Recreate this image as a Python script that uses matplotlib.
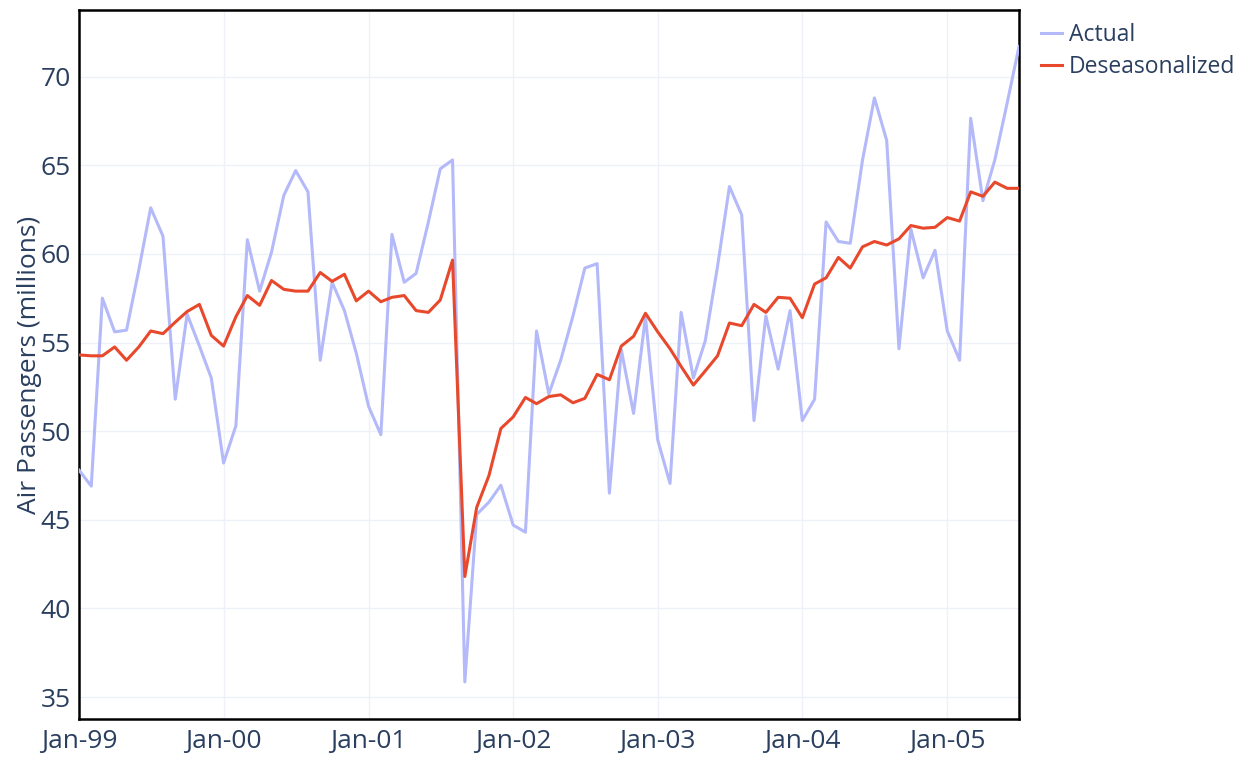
import matplotlib.pyplot as plt
import matplotlib.dates as mdates
import numpy as np
import pandas as pd

plt.rcParams['font.family'] = ['Open Sans', 'DejaVu Sans']

# monthly, Jan-1999 .. Jul-2005
months = pd.date_range('1999-01-01', periods=79, freq='MS')

actual = [47.8, 46.9, 57.5, 55.6, 55.7, 59.1, 62.6, 61.0, 51.8, 56.6, 54.8, 53.0,
          48.2, 50.3, 60.8, 57.9, 60.1, 63.3, 64.7, 63.5, 54.0, 58.4, 56.8, 54.4,
          51.4, 49.8, 61.1, 58.4, 58.9, 61.8, 64.8, 65.3, 35.85, 45.3, 46.0, 46.95,
          44.7, 44.3, 55.65, 52.1, 54.0, 56.5, 59.2, 59.45, 46.5, 54.6, 51.0, 56.45,
          49.5, 47.05, 56.7, 53.0, 55.1, 59.3, 63.8, 62.2, 50.6, 56.5, 53.5, 56.8,
          50.6, 51.8, 61.8, 60.7, 60.6, 65.3, 68.8, 66.4, 54.65, 61.4, 58.65, 60.2,
          55.65, 54.0, 67.65, 63.0, 65.3, 68.5, 71.7]

deseasonalized = [54.3, 54.25, 54.25, 54.75, 54.0, 54.75, 55.65, 55.5, 56.15, 56.75, 57.15, 55.4,
                  54.8, 56.45, 57.65, 57.1, 58.5, 58.0, 57.9, 57.9, 58.95, 58.45, 58.85, 57.35,
                  57.9, 57.3, 57.55, 57.65, 56.8, 56.7, 57.4, 59.65, 41.8, 45.7, 47.5, 50.15,
                  50.8, 51.9, 51.55, 51.95, 52.05, 51.6, 51.85, 53.2, 52.9, 54.8, 55.35, 56.65,
                  55.6, 54.65, 53.65, 52.6, 53.4, 54.25, 56.1, 55.95, 57.15, 56.7, 57.55, 57.5,
                  56.4, 58.3, 58.65, 59.8, 59.2, 60.4, 60.7, 60.5, 60.85, 61.6, 61.45, 61.5,
                  62.05, 61.85, 63.5, 63.25, 64.05, 63.7, 63.7]

yticks = [35, 40, 45, 50, 55, 60, 65, 70]

txt = '#2a3f5f'

fig = plt.figure(figsize=(12.54, 7.61), dpi=100)
ax = fig.add_axes([79/1254, 1 - 719/761, 940/1254, 709/761])

ax.plot(months, actual, color='#b3b9f9', lw=2.2, label='Actual', zorder=3)
ax.plot(months, deseasonalized, color='#e8492c', lw=2.2, label='Deseasonalized', zorder=4)

ax.set_xlim(months[0], months[-1])
ax.set_ylim(33.76, 73.76)
ax.set_yticks(yticks)
ax.xaxis.set_major_locator(mdates.MonthLocator(bymonth=1))
ax.xaxis.set_major_formatter(mdates.DateFormatter('%b-%y'))

ax.grid(True, color='#eef1f8', lw=1)
ax.set_axisbelow(True)
for s in ax.spines.values():
    s.set_color('black')
    s.set_linewidth(1.8)
ax.tick_params(length=0, labelsize=19, colors=txt)
ax.tick_params(axis='y', pad=6)
ax.tick_params(axis='x', pad=7)
ax.set_ylabel('Air Passengers (millions)', fontsize=19, color=txt, labelpad=-1)

ax.legend(loc='upper left', bbox_to_anchor=(1.01, 1.0), frameon=False, fontsize=16.5,
          handlelength=0.9, handletextpad=0.3, labelspacing=0.35, borderaxespad=0.15,
          labelcolor=txt)

fig.savefig('out.png', dpi=100)
